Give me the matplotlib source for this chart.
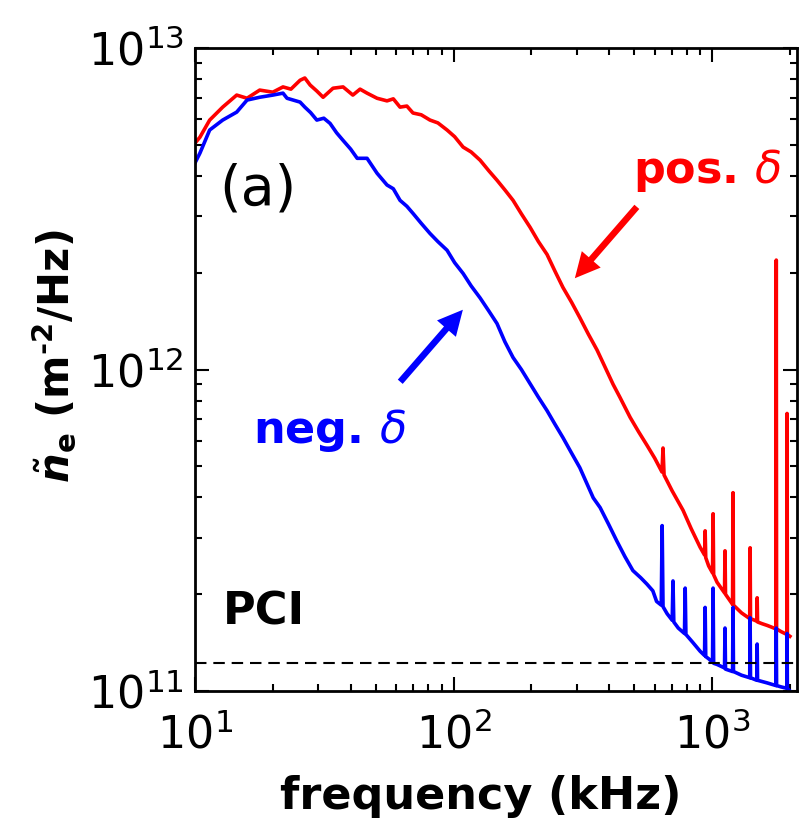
import matplotlib
matplotlib.use('Agg')
import matplotlib.pyplot as plt

plt.rcParams['font.family'] = ['DejaVu Sans']
plt.rcParams['mathtext.fontset'] = 'custom'
plt.rcParams['mathtext.rm'] = 'DejaVu Sans'
plt.rcParams['mathtext.it'] = 'DejaVu Sans:italic'
plt.rcParams['mathtext.bf'] = 'DejaVu Sans:bold'
plt.rcParams['mathtext.bfit'] = 'DejaVu Sans:italic:bold'

# PCI density fluctuation spectra
pos_freq = [10, 10.45, 11.4, 12.8, 14.5, 15.9, 17.8, 20.0, 21.9, 23.5, 25.5, 26.6, 27.9, 29.6,
            31.3, 34.2, 37.4, 40.8, 43.5, 46.3, 50.6, 55.3, 58.5, 62.1, 66.0, 69.7, 75.0, 81.1,
            87.0, 94.4, 101, 108.9, 117, 126.7, 137, 147.3, 158, 169.9, 183, 197.7, 213, 230,
            247, 265, 286, 308, 332, 359, 385, 414, 440, 482, 520, 561, 600, 640, 646, 652,
            700, 772, 830, 899, 935, 940, 945, 970, 1004, 1009, 1014, 1045, 1117, 1122, 1127,
            1200, 1205, 1210, 1300, 1398, 1403, 1408, 1489, 1494, 1499, 1560, 1633, 1700,
            1766, 1771, 1776, 1850, 1945, 1950, 1955, 2000]
pos_psd = [5.06e12, 5.28e12, 5.97e12, 6.55e12, 7.14e12, 6.98e12, 7.40e12, 7.29e12, 7.57e12,
           7.45e12, 7.94e12, 8.07e12, 7.67e12, 7.35e12, 7.03e12, 7.50e12, 7.57e12, 7.14e12,
           7.45e12, 7.24e12, 6.98e12, 6.85e12, 6.95e12, 6.55e12, 6.60e12, 6.28e12, 6.20e12,
           5.97e12, 5.85e12, 5.56e12, 5.30e12, 4.92e12, 4.75e12, 4.48e12, 4.15e12, 3.88e12,
           3.62e12, 3.36e12, 3.05e12, 2.77e12, 2.50e12, 2.28e12, 2.02e12, 1.80e12, 1.62e12,
           1.45e12, 1.29e12, 1.15e12, 1.02e12, 9.0e11, 8.2e11, 7.1e11, 6.4e11, 5.8e11, 5.3e11,
           4.8e11, 5.7e11, 4.7e11, 4.2e11, 3.65e11, 3.2e11, 2.8e11, 2.65e11, 3.15e11, 2.6e11,
           2.45e11, 2.33e11, 3.56e11, 2.3e11, 2.18e11, 2.02e11, 2.73e11, 2.0e11, 1.86e11,
           4.14e11, 1.85e11, 1.75e11, 1.68e11, 2.79e11, 1.68e11, 1.65e11, 1.95e11, 1.64e11,
           1.62e11, 1.60e11, 1.58e11, 1.56e11, 2.19e12, 1.56e11, 1.53e11, 1.50e11, 7.3e11,
           1.50e11, 1.48e11]

neg_freq = [10, 10.45, 11.4, 12.8, 14.5, 15.9, 17.8, 20.0, 21.9, 22.7, 25.5, 26.6, 28.0, 29.6,
            31.5, 33.3, 35.3, 37.4, 40.0, 42.4, 46.3, 50.6, 55.3, 58.5, 62.1, 66.0, 69.7, 75.0,
            81.1, 87.0, 94.4, 101, 108.9, 117, 126.7, 137, 147.3, 158, 169.9, 183, 197.7, 213,
            230, 247, 265, 286, 308, 347, 369, 398, 428, 460, 494, 530, 560, 590, 610, 636, 641,
            646, 670, 701, 706, 711, 740, 782, 787, 792, 840, 899, 935, 940, 945, 970, 1004,
            1009, 1014, 1045, 1117, 1122, 1127, 1200, 1205, 1210, 1300, 1398, 1403, 1408, 1489,
            1494, 1499, 1633, 1766, 1771, 1776, 1850, 1945, 1950, 1955, 2000]
neg_psd = [4.39e12, 4.71e12, 5.56e12, 5.97e12, 6.32e12, 6.89e12, 7.03e12, 7.14e12, 7.24e12,
           6.98e12, 6.79e12, 6.55e12, 6.30e12, 5.97e12, 6.05e12, 5.83e12, 5.45e12, 5.16e12,
           4.85e12, 4.54e12, 4.54e12, 4.08e12, 3.75e12, 3.65e12, 3.36e12, 3.22e12, 3.06e12,
           2.85e12, 2.65e12, 2.50e12, 2.35e12, 2.15e12, 1.99e12, 1.82e12, 1.67e12, 1.52e12,
           1.39e12, 1.22e12, 1.09e12, 1.0e12, 9.04e11, 8.2e11, 7.45e11, 6.75e11, 6.14e11,
           5.5e11, 4.95e11, 3.99e11, 3.72e11, 3.3e11, 2.93e11, 2.62e11, 2.37e11, 2.25e11,
           2.15e11, 2.05e11, 1.9e11, 1.85e11, 3.27e11, 1.83e11, 1.74e11, 1.66e11, 2.20e11,
           1.64e11, 1.57e11, 1.51e11, 2.09e11, 1.50e11, 1.42e11, 1.33e11, 1.29e11, 1.82e11,
           1.28e11, 1.26e11, 1.23e11, 2.09e11, 1.22e11, 1.21e11, 1.18e11, 1.57e11, 1.17e11,
           1.15e11, 1.82e11, 1.15e11, 1.12e11, 1.10e11, 1.69e11, 1.10e11, 1.08e11, 1.40e11,
           1.08e11, 1.06e11, 1.04e11, 1.57e11, 1.04e11, 1.03e11, 1.02e11, 1.51e11, 1.02e11,
           1.0e11]

noise_floor = 1.22e11

fig = plt.figure(figsize=(8.01, 8.27), dpi=100)
ax = fig.add_axes([0.2434, 0.1644, 0.7516, 0.7775])

ax.plot(pos_freq, pos_psd, color='#ff0000', lw=2.6)
ax.plot(neg_freq, neg_psd, color='#0000ff', lw=2.6)
ax.axhline(noise_floor, color='k', lw=1.5, ls=(0, (5.5, 3.3)))

ax.set_xscale('log')
ax.set_yscale('log')
ax.set_xlim(10, 2130)
ax.set_ylim(1e11, 1e13)

for s in ax.spines.values():
    s.set_linewidth(2)
ax.tick_params(which='both', direction='in', top=True, right=True, width=1.5)
ax.tick_params(which='major', length=10, labelsize=32)
ax.tick_params(which='minor', length=5)
ax.tick_params(axis='y', which='major', pad=8)
ax.tick_params(axis='x', which='major', pad=16)

ax.set_xlabel('frequency (kHz)', fontsize=32, fontweight='bold')
ax.xaxis.set_label_coords(0.475, -0.131)
ax.xaxis.label.set_va('top')
fig.text(54 / 801, 1 - 356 / 827,
         r'$\tilde{\mathbfit{n}}_{\mathbf{e}}$ (m$^{\mathbf{' + '\u2010' + r'2}}$/Hz)',
         rotation=90, ha='center', va='center', fontsize=30, fontweight='bold')

ax.text(0.040, 0.757, '(a)', transform=ax.transAxes, fontsize=40, va='baseline')
ax.text(0.047, 0.103, 'PCI', transform=ax.transAxes, fontsize=32, fontweight='bold',
        va='baseline')
ax.text(0.728, 0.790, r'pos. $\delta$', transform=ax.transAxes, fontsize=32,
        fontweight='bold', color='#ff0000', va='baseline')
ax.text(0.096, 0.386, r'neg. $\delta$', transform=ax.transAxes, fontsize=32,
        fontweight='bold', color='#0000ff', va='baseline')

arrow = 'simple,head_length=1.0,head_width=1.0,tail_width=0.26'
ax.annotate('', xy=(0.631, 0.642), xytext=(0.734, 0.753), xycoords='axes fraction',
            arrowprops=dict(arrowstyle=arrow, mutation_scale=18, fc='#ff0000', ec='none',
                            shrinkA=0, shrinkB=0))
ax.annotate('', xy=(0.445, 0.593), xytext=(0.341, 0.481), xycoords='axes fraction',
            arrowprops=dict(arrowstyle=arrow, mutation_scale=18, fc='#0000ff', ec='none',
                            shrinkA=0, shrinkB=0))

fig.savefig('out.png', dpi=100)
